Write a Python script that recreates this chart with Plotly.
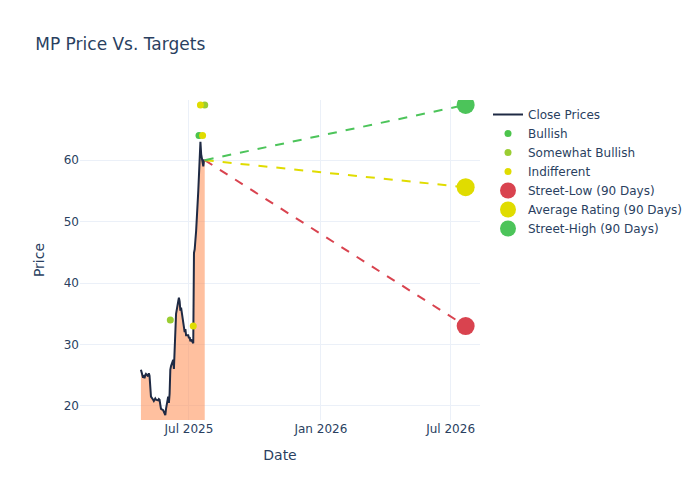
import plotly.graph_objects as go
import pandas as pd

close_prices = [25.9, 24.6, 25, 24.5, 25, 25.2, 24.8, 25.3, 24.9, 23,
                21.5, 21, 20.8,
                21, 21.2, 21, 20.9, 21.1, 21, 20.2,
                19.5, 19.3, 19, 18.8, 18.5, 19.5,
                21.5, 20.5, 22,
                25.9, 26.5, 27.5, 26,
                29, 32, 35, 37, 37.6,
                37, 35.5, 36, 33.5,
                33, 32, 32.5, 31.5, 31.5,
                31, 31.2, 30.5, 30.8, 30.2,
                44.9, 45.5, 47, 48.5,
                55, 57.5, 59, 63,
                61, 59, 60, 60]
close_dates = pd.bdate_range("2025-04-25", periods=len(close_prices))

bullish_dates = ["2025-07-15"]
bullish_prices = [64]
somewhat_dates = ["2025-06-05", "2025-07-23"]
somewhat_prices = [34, 69]
indifferent_dates = ["2025-07-07", "2025-07-17", "2025-07-20"]
indifferent_prices = [33, 69, 64]

target_date = "2026-07-22"
street_low = 33
avg_rating = 55.6
street_high = 69

last_date = close_dates[-1]
last_price = close_prices[-1]

fig = go.Figure()
# fill under the price line
fig.add_trace(go.Scatter(x=close_dates, y=close_prices, mode="none", fill="tozeroy",
                         fillcolor="rgba(255,140,80,0.55)", showlegend=False, hoverinfo="skip"))
fig.add_trace(go.Scatter(x=close_dates, y=close_prices, mode="lines", name="Close Prices",
                         line=dict(color="#1f2a44", width=2)))
fig.add_trace(go.Scatter(x=bullish_dates, y=bullish_prices, mode="markers", name="Bullish",
                         marker=dict(color="#4cc44c", size=7)))
fig.add_trace(go.Scatter(x=somewhat_dates, y=somewhat_prices, mode="markers", name="Somewhat Bullish",
                         marker=dict(color="#9acd32", size=7)))
fig.add_trace(go.Scatter(x=indifferent_dates, y=indifferent_prices, mode="markers", name="Indifferent",
                         marker=dict(color="#e0dc00", size=7)))

for name, val, col in [("Street-Low (90 Days)", street_low, "#d9434f"),
                       ("Average Rating (90 Days)", avg_rating, "#e0dc00"),
                       ("Street-High (90 Days)", street_high, "#4cc45a")]:
    fig.add_trace(go.Scatter(x=[last_date, target_date], y=[last_price, val], mode="lines",
                             line=dict(color=col, dash="dash", width=2), showlegend=False))
    fig.add_trace(go.Scatter(x=[target_date], y=[val], mode="markers", name=name,
                             marker=dict(color=col, size=18)))

fig.update_layout(
    template="plotly_white",
    width=700, height=500,
    margin=dict(l=72, r=228, t=92, b=88),
    font=dict(family="DejaVu Sans", size=12),
    title=dict(text="MP Price Vs. Targets", x=0.039, y=0.928, yanchor="middle"),
    xaxis=dict(title="Date", range=["2025-01-30", "2026-08-11"],
               dtick="M6", tick0="2025-07-01", tickformat="%b %Y"),
    yaxis=dict(title="Price", range=[17.7, 69.8]),
)
fig.write_html("out.html")
